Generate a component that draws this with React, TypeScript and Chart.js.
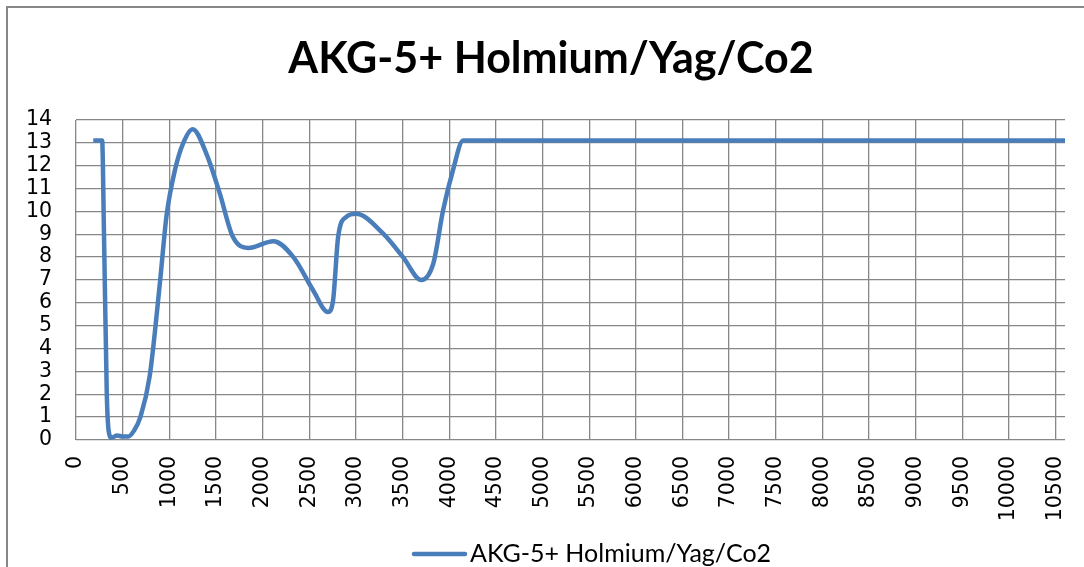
import React, { useEffect, useRef } from "react";
import { Chart, registerables } from "chart.js";

Chart.register(...registerables);

const seriesName = "AKG-5+ Holmium/Yag/Co2";
const titleText = "AKG-5+ Holmium/Yag/Co2";
const xValues = [185, 280, 300, 330, 350, 380, 440, 500, 560, 620, 690, 790, 900, 970, 1060, 1150, 1250, 1400, 1540, 1680, 1845, 2115, 2330, 2540, 2700, 2755, 2810, 2900, 3000, 3290, 3505, 3700, 3830, 3935, 4040, 4150, 10600];
const yValues = [13.1, 13.1, 9, 2, 0.4, 0.1, 0.2, 0.15, 0.15, 0.4, 1.0, 2.8, 6.9, 9.8, 11.8, 13.0, 13.6, 12.5, 10.8, 8.9, 8.4, 8.7, 8.0, 6.56, 5.6, 6.1, 8.9, 9.77, 9.9, 9.04, 8.0, 7.0, 7.73, 10.06, 11.8, 13.1, 13.1];
const xTickValues = [0, 500, 1000, 1500, 2000, 2500, 3000, 3500, 4000, 4500, 5000, 5500, 6000, 6500, 7000, 7500, 8000, 8500, 9000, 9500, 10000, 10500];
const xMin = 0;
const xMax = 10600;
const yMin = 0;
const yMax = 14;
const yStep = 1;

const LINE = "#4A7EBB";
const GRID = "#878787";

const decorPlugin = {
  id: "decor",
  beforeDraw(chart: any) {
    const ctx = chart.ctx;
    ctx.save();
    ctx.fillStyle = "#ffffff";
    ctx.fillRect(0, 0, chart.width, chart.height);
    ctx.strokeStyle = GRID;
    ctx.lineWidth = 2;
    ctx.strokeRect(7, 7, 3000, 3000);
    ctx.restore();
  },
  afterDraw(chart: any) {
    const ctx = chart.ctx;
    ctx.save();
    ctx.fillStyle = "#000";
    ctx.font = "bold 43px Lato";
    ctx.textAlign = "center";
    ctx.textBaseline = "alphabetic";
    ctx.fillText(titleText, 551, 73);
    ctx.strokeStyle = LINE;
    ctx.lineWidth = 4.5;
    ctx.lineCap = "round";
    ctx.beginPath();
    ctx.moveTo(414, 554);
    ctx.lineTo(465, 554);
    ctx.stroke();
    ctx.font = "25px Lato";
    ctx.textAlign = "left";
    ctx.fillText(seriesName, 470, 562);
    ctx.restore();
  },
};

export default function App() {
  const ref = useRef<HTMLCanvasElement | null>(null);
  useEffect(() => {
    if (!ref.current) return;
    const data = xValues.map((x, i) => ({ x, y: yValues[i] }));
    const chart = new Chart(ref.current, {
      type: "scatter",
      data: {
        datasets: [
          {
            label: seriesName,
            data,
            showLine: true,
            borderColor: LINE,
            backgroundColor: LINE,
            borderWidth: 4.5,
            pointRadius: 0,
            pointHoverRadius: 0,
            cubicInterpolationMode: "monotone",
          } as any,
        ],
      },
      options: {
        animation: false,
        responsive: true,
        maintainAspectRatio: false,
        layout: { padding: { left: 0, right: 19, top: 120, bottom: 0 } },
        plugins: {
          title: { display: false },
          legend: { display: false },
          tooltip: { enabled: false },
        },
        scales: {
          x: {
            type: "linear",
            min: xMin,
            max: xMax,
            afterBuildTicks: (scale: any) => {
              scale.ticks = xTickValues.map((v) => ({ value: v }));
            },
            afterFit: (scale: any) => {
              scale.height = 127;
              scale.paddingLeft = 0;
              scale.paddingRight = 0;
            },
            ticks: {
              autoSkip: false,
              minRotation: 90,
              maxRotation: 90,
              padding: 16,
              color: "#000",
              font: { family: "DejaVu Sans", size: 20.5 },
              callback: (v: any) => String(v),
            },
            grid: { color: GRID, lineWidth: 1.3, drawTicks: false },
            border: { display: false },
          },
          y: {
            type: "linear",
            min: yMin,
            max: yMax,
            afterFit: (scale: any) => {
              scale.width = 76;
              scale.paddingTop = 0;
              scale.paddingBottom = 0;
            },
            ticks: {
              stepSize: yStep,
              autoSkip: false,
              padding: 24,
              color: "#000",
              font: { family: "DejaVu Sans", size: 20.5 },
            },
            grid: { color: GRID, lineWidth: 1.3, drawTicks: false },
            border: { display: false },
          },
        },
      },
      plugins: [decorPlugin],
    });
    return () => chart.destroy();
  }, []);
  return (
    <div style={{ position: "absolute", left: 0, top: 0, width: 1084, height: 567 }}>
      <canvas ref={ref} />
    </div>
  );
}
